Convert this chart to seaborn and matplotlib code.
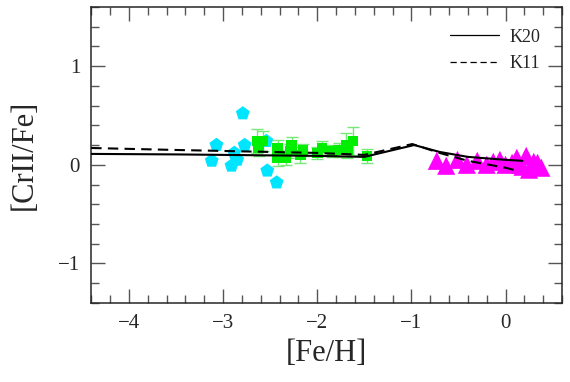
import pandas as pd
import seaborn as sns
import matplotlib.pyplot as plt
from matplotlib.ticker import MultipleLocator

# model tracks
k20_feh = [-4.4, -3.5, -3.0, -2.5, -2.0, -1.5, -0.97, -0.7, -0.4, 0.0, 0.18]
k20_cr = [0.11, 0.105, 0.10, 0.095, 0.09, 0.08, 0.20, 0.13, 0.08, 0.05, 0.04]
k11_feh = [-4.4, -3.5, -3.0, -2.5, -2.0, -1.5, -0.99, -0.7, -0.4, 0.0, 0.12]
k11_cr = [0.17, 0.15, 0.14, 0.13, 0.12, 0.10, 0.21, 0.12, 0.04, -0.03, -0.06]

# cyan pentagons
cyan_feh = [-2.79, -3.07, -3.12, -2.91, -2.85, -2.77, -2.88, -2.53, -2.43, -2.54]
cyan_cr = [0.52, 0.20, 0.04, -0.01, 0.05, 0.20, 0.12, -0.06, -0.18, 0.24]

# green squares with errors
green_feh = [-2.64, -2.58, -2.62, -2.42, -2.42, -2.33, -2.27, -2.29, -2.15, -2.18,
             -2.0, -1.95, -1.84, -1.77, -1.69, -1.62, -1.68, -1.47]
green_cr = [0.24, 0.24, 0.17, 0.17, 0.07, 0.07, 0.20, 0.14, 0.15, 0.10,
            0.12, 0.17, 0.14, 0.15, 0.20, 0.24, 0.15, 0.09]
green_err = [0.12, 0.10, 0.08, 0.08, 0.08, 0.07, 0.08, 0.07, 0.06, 0.08,
             0.06, 0.07, 0.06, 0.07, 0.12, 0.14, 0.08, 0.07]

# magenta triangles
mag_feh = [-0.73, -0.63, -0.51, -0.41, -0.30, -0.20, -0.13, -0.06, 0.0, 0.07,
           0.12, 0.15, 0.22, 0.25, 0.30, 0.34, 0.38, 0.18]
mag_cr = [0.04, -0.01, 0.05, 0.00, 0.04, 0.00, 0.03, 0.05, 0.00, 0.02,
          0.07, 0.00, 0.09, -0.05, 0.03, 0.02, -0.03, -0.02]

sns.set_style("ticks")
plt.rcParams['font.family'] = ['Liberation Serif', 'DejaVu Serif']

fig = plt.figure(figsize=(5.7, 3.82), dpi=100)
ax = fig.add_axes([0.16, 0.207, 0.826, 0.775])

sns.lineplot(x=k20_feh, y=k20_cr, sort=False, color='black', lw=1.5, label='K20', ax=ax, zorder=6)
sns.lineplot(x=k11_feh, y=k11_cr, sort=False, color='black', lw=1.5, linestyle=(0, (5, 3)),
             label='K11', ax=ax, zorder=6)

sns.scatterplot(x=cyan_feh, y=cyan_cr, marker='p', s=110, color='#00e5ff', edgecolor='none',
                ax=ax, zorder=3)
ax.errorbar(green_feh, green_cr, yerr=green_err, fmt='none', ecolor='#77e877', elinewidth=1,
            capsize=4, capthick=1, zorder=3)
sns.scatterplot(x=green_feh, y=green_cr, marker='s', s=60, color='#00ee00', edgecolor='none',
                ax=ax, zorder=4)
sns.scatterplot(x=mag_feh, y=mag_cr, marker='^', s=170, color='#ff00ff', edgecolor='none',
                ax=ax, zorder=2)

ax.set_xlim(-4.4, 0.6)
ax.set_ylim(-1.4, 1.6)
ax.xaxis.set_major_locator(MultipleLocator(1))
ax.xaxis.set_minor_locator(MultipleLocator(0.2))
ax.yaxis.set_major_locator(MultipleLocator(1))
ax.yaxis.set_minor_locator(MultipleLocator(0.2))
ax.tick_params(which='both', direction='in', top=True, right=True, labelsize=15, color='#555555',
               pad=8)
ax.tick_params(which='major', length=10, width=1)
ax.tick_params(which='minor', length=5.5, width=1)
for sp in ax.spines.values():
    sp.set_linewidth(1.1)

ax.set_xlabel('[Fe/H]', fontsize=22)
ax.set_ylabel('[CrII/Fe]', fontsize=22, labelpad=14)

leg = ax.legend(loc='upper right', frameon=False, fontsize=13, handlelength=2.7,
                borderaxespad=0.8, labelspacing=0.55, handletextpad=0.6)
for ln in leg.get_lines():
    ln.set_linewidth(0.9)

fig.savefig('out.png', dpi=100)
